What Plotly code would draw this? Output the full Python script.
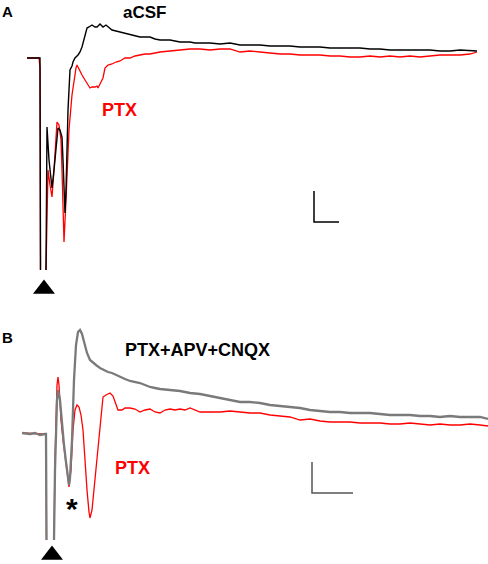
import plotly.graph_objects as go

# Panel A: field potentials, time from stimulus (0.1 ms steps), amplitude (a.u.)
t_a_acsf = [-13, -1, 0, 0.5, None, 6, 7, 9, 12, 14, 16, 18, 20, 22, 23, 25, 26, 28, 30, 32, 33, 35,
            38, 40, 42, 44, 47, 49, 52, 55, 57, 60, 63, 66, 69, 72, 76, 80, 85, 90, 95, 100, 105,
            110, 115, 120, 125, 130, 135, 140, 145, 150, 155, 160, 170, 180, 190, 200, 210, 220,
            230, 240, 250, 260, 270, 280, 290, 300, 310, 320, 330, 340, 350, 360, 370, 380, 390,
            400, 410, 420, 430, 437]
v_a_acsf = [0, 0, 0, -212, None, -212, -69, -102, -130, -112, -87, -70, -72, -79, -102, -155, -132,
            -52, -12, -8, -4, 0, 3, 6, 11, 18, 30, 31, 33, 31, 31, 34, 31, 33, 30, 28, 27, 26, 24,
            23, 22, 21, 21, 21, 19, 18, 18, 18, 17, 16, 16, 16, 15, 15, 15, 14, 15, 13, 13, 13,
            12, 12, 12, 11, 11, 11, 10, 10, 10, 10, 9, 9, 8, 8, 8, 8, 8, 7, 7, 8, 7, 7]

t_a_ptx = [-13, -1, 0, 0.5, None, 6, 8, 10, 12, 14, 16, 17, 19, 21, 22, 24, 26, 28, 29, 32, 34, 36,
           37, 40, 42, 45, 47, 50, 52, 55, 57, 58, 60, 63, 65, 68, 72, 76, 80, 85, 90, 95, 100,
           105, 110, 115, 120, 130, 140, 150, 160, 170, 180, 190, 200, 210, 220, 230, 240, 250,
           260, 270, 280, 290, 300, 310, 320, 330, 340, 350, 360, 370, 380, 390, 400, 410, 420,
           430, 437]
v_a_ptx = [0, 0, -10, -212, None, -212, -112, -127, -139, -112, -72, -64, -67, -82, -112, -184, -142,
           -92, -72, -37, -22, -10, -7, -14, -17, -22, -25, -30, -29, -29, -28, -30, -26, -20, -10,
           -7, -6, -4, -3, 0, 0, 2, 3, 4, 4, 5, 6, 7, 8, 9, 9, 8, 9, 9, 6, 7, 6, 5, 4, 4, 3, 3,
           3, 2, 2, 1, 1, 2, 1, 2, 1, 2, 1, 2, 3, 3, 3, 4, 6]

# Panel B
t_b_block = [-24, -16, -11, -6, -1, 0, 0.5, None, 8, 9, 11, 12, 14, 16, 18, 20, 22, 23, 24, 26, 28,
             30, 32, 34, 36, 38, 41, 44, 47, 50, 54, 58, 62, 66, 70, 74, 79, 84, 89, 94, 99, 104,
             109, 114, 124, 134, 144, 154, 164, 174, 184, 194, 204, 214, 224, 234, 244, 254, 264,
             274, 284, 294, 304, 314, 324, 334, 344, 354, 364, 374, 384, 394, 404, 414, 424, 434, 442]
v_b_block = [0, -1, 0, -2, -1, -1, -107, None, -107, -37, 33, 43, 33, 8, -12, -29, -45, -52, -45, -7,
             53, 88, 101, 103, 99, 91, 80, 73, 70, 68, 65, 63, 61, 60, 58, 56, 54, 52, 51, 50, 48,
             46, 45, 44, 43, 42, 40, 39, 37, 35, 33, 31, 31, 30, 28, 27, 26, 25, 23, 22, 21, 21,
             20, 20, 20, 19, 18, 18, 18, 17, 17, 16, 17, 16, 16, 16, 14]

t_b_ptx = [-24, -1, 0, 0.5, None, 8, 9, 11, 12, 13, 15, 17, 19, 21, 23, 25, 27, 29, 31, 33, 35, 37,
           39, 41, 43, 44, 46, 48, 50, 52, 54, 56, 57, 60, 64, 67, 70, 72, 76, 79, 84, 89, 94, 99,
           104, 109, 114, 119, 124, 129, 134, 139, 144, 149, 154, 164, 174, 184, 194, 204, 214,
           224, 234, 244, 254, 264, 274, 284, 294, 304, 314, 324, 334, 344, 354, 364, 374, 384,
           394, 404, 414, 424, 434, 442]
v_b_ptx = [0, -1, -1, -107, None, -107, -27, 48, 56, 48, 13, -7, -22, -37, -54, -37, 3, 23, 28, 26,
           18, 3, -32, -57, -79, -85, -77, -57, -37, -17, 8, 26, 36, 38, 40, 37, 28, 23, 23, 25, 25,
           24, 21, 23, 24, 21, 20, 23, 24, 23, 24, 23, 25, 23, 21, 21, 21, 22, 21, 20, 20, 18, 17,
           16, 13, 14, 12, 11, 11, 11, 10, 10, 10, 9, 9, 10, 9, 8, 9, 8, 8, 9, 8, 7]

# scale bars and stimulus markers
scale_a_t = [274, 274, 299]
scale_a_v = [-133, -164, -164]
scale_b_t = [266, 266, 307]
scale_b_v = [-29, -60, -60]
stim_a = (4, -231)
stim_b = (6, -122)

FONT = "Liberation Sans, Arial, Helvetica, sans-serif"
RED = "#ff0000"
GREY = "#7a7a7a"

fig = go.Figure()

fig.add_trace(go.Scatter(x=t_a_ptx, y=v_a_ptx, mode="lines",
                         line=dict(color=RED, width=1.3), xaxis="x", yaxis="y"))
fig.add_trace(go.Scatter(x=t_a_acsf, y=v_a_acsf, mode="lines",
                         line=dict(color="#000000", width=1.4), xaxis="x", yaxis="y"))
fig.add_trace(go.Scatter(x=scale_a_t, y=scale_a_v, mode="lines",
                         line=dict(color="#000000", width=1.5), xaxis="x", yaxis="y"))
fig.add_trace(go.Scatter(x=[stim_a[0]], y=[stim_a[1]], mode="markers",
                         marker=dict(symbol="triangle-up", size=19, color="#000000"),
                         xaxis="x", yaxis="y"))

fig.add_trace(go.Scatter(x=t_b_ptx, y=v_b_ptx, mode="lines",
                         line=dict(color=RED, width=1.3), xaxis="x2", yaxis="y2"))
fig.add_trace(go.Scatter(x=t_b_block, y=v_b_block, mode="lines",
                         line=dict(color=GREY, width=2.3), xaxis="x2", yaxis="y2"))
fig.add_trace(go.Scatter(x=scale_b_t, y=scale_b_v, mode="lines",
                         line=dict(color="#555555", width=1.5), xaxis="x2", yaxis="y2"))
fig.add_trace(go.Scatter(x=[stim_b[0]], y=[stim_b[1]], mode="markers",
                         marker=dict(symbol="triangle-up", size=19, color="#000000"),
                         xaxis="x2", yaxis="y2"))

hidden = dict(visible=False, showgrid=False, zeroline=False, fixedrange=True)
split = 1 - 305 / 564

fig.update_layout(
    width=488, height=564,
    margin=dict(l=0, r=0, t=0, b=0),
    paper_bgcolor="white", plot_bgcolor="white",
    showlegend=False,
    xaxis =dict(hidden, range=[-40, 448], domain=[0, 1], anchor="y"),
    yaxis =dict(hidden, range=[-247, 58], domain=[split, 1], anchor="x"),
    xaxis2=dict(hidden, range=[-46, 442], domain=[0, 1], anchor="y2"),
    yaxis2=dict(hidden, range=[-131, 128], domain=[0, split], anchor="x2"),
    font=dict(family=FONT),
)

labels = [
    ("x", "y", -33, 47, "<b>A</b>", 15, "#000000"),
    ("x", "y", 104, 46, "<b>aCSF</b>", 17, "#000000"),
    ("x", "y", 79, -52, "<b>PTX</b>", 18, RED),
    ("x2", "y2", -39, 96, "<b>B</b>", 15, "#000000"),
    ("x2", "y2", 151, 83, "<b>PTX+APV+CNQX</b>", 18, "#000000"),
    ("x2", "y2", 86, -35, "<b>PTX</b>", 18, RED),
    ("x2", "y2", 26, -75, "<b>*</b>", 30, "#000000"),
]
for xr, yr, x, y, txt, size, col in labels:
    fig.add_annotation(x=x, y=y, xref=xr, yref=yr, text=txt, showarrow=False,
                       font=dict(size=size, color=col, family=FONT))

# the page body has a default 8px margin; drop it so the figure fills the window
fig.write_html("out.html", config={"displayModeBar": False},
               post_script="document.body.style.margin='0';")
